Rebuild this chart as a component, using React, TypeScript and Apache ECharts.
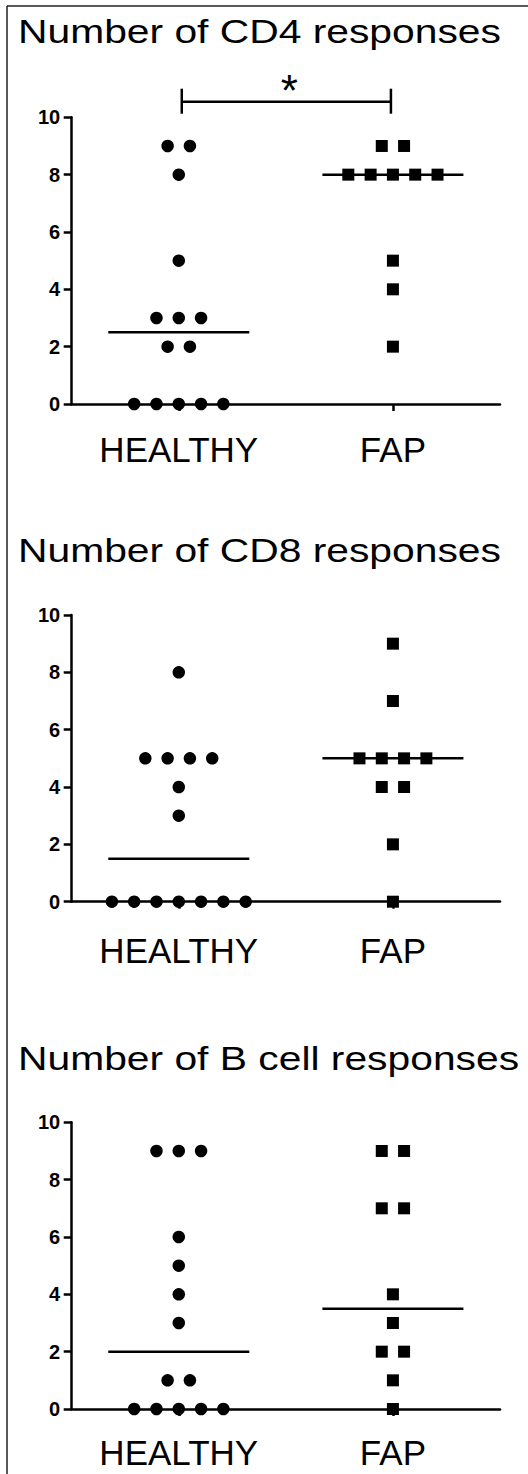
import React, { useEffect, useRef } from "react";
import * as echarts from "echarts";

// ---- data ----
const categories = ["HEALTHY", "FAP"];
const titles = ["Number of CD4 responses", "Number of CD8 responses", "Number of B cell responses"];

const cd4Healthy = [9, 9, 8, 5, 3, 3, 3, 2, 2, 0, 0, 0, 0, 0];
const cd4Fap = [9, 9, 8, 8, 8, 8, 8, 5, 4, 2];
const cd8Healthy = [8, 5, 5, 5, 5, 4, 3, 0, 0, 0, 0, 0, 0, 0];
const cd8Fap = [9, 7, 5, 5, 5, 5, 4, 4, 2, 0];
const bHealthy = [9, 9, 9, 6, 5, 4, 3, 1, 1, 0, 0, 0, 0, 0];
const bFap = [9, 9, 7, 7, 4, 3, 2, 2, 1, 0];

const cd4Medians = [2.5, 8];
const cd8Medians = [1.5, 5];
const bMedians = [2, 3.5];

const yMin = 0;
const yMax = 10;
const yInterval = 2;

// significance annotation (panel 1): between HEALTHY and FAP
const sigLabel = "*";

// ---- layout ----
const FONT = '"Liberation Sans", Arial, Helvetica, sans-serif';
const W = 528;
const H = 1474;
const GRID_LEFT = 71.7;
const GRID_WIDTH = 428.3;
const GRID_HEIGHT = 286.7;
const gridTops = [117.3, 615, 1122.3];
const titleBaselines = [43.5, 562, 1070];
const xLabelMargins = [28, 31, 25.5];
const DOT_SPACING = 22.3;
const MEDIAN_HALF = 70.5;
const LW = 2.5;

const panels = [
  { title: titles[0], groups: [cd4Healthy, cd4Fap], medians: cd4Medians, sig: true },
  { title: titles[1], groups: [cd8Healthy, cd8Fap], medians: cd8Medians, sig: false },
  { title: titles[2], groups: [bHealthy, bFap], medians: bMedians, sig: false },
];

function jitter(values: number[], cat: number) {
  const counts: Record<number, number> = {};
  values.forEach((v) => (counts[v] = (counts[v] || 0) + 1));
  const seen: Record<number, number> = {};
  return values.map((v) => {
    const i = seen[v] || 0;
    seen[v] = i + 1;
    const n = counts[v];
    return { value: [cat, v], symbolOffset: [(i - (n - 1) / 2) * DOT_SPACING, 0] };
  });
}

export default function App() {
  const ref = useRef<HTMLDivElement>(null);
  useEffect(() => {
    if (!ref.current) return;
    const chart = echarts.init(ref.current, undefined, { renderer: "svg" });

    const grid: any[] = [];
    const xAxis: any[] = [];
    const yAxis: any[] = [];
    const series: any[] = [];
    const graphic: any[] = [];

    // frame lines
    graphic.push({
      type: "line",
      shape: { x1: 7, y1: 6, x2: W, y2: 6 },
      style: { stroke: "#222", lineWidth: 1.5 },
    });
    graphic.push({
      type: "line",
      shape: { x1: 7, y1: 6, x2: 7, y2: H },
      style: { stroke: "#222", lineWidth: 1.5 },
    });

    panels.forEach((p, k) => {
      grid.push({ left: GRID_LEFT, top: gridTops[k], width: GRID_WIDTH, height: GRID_HEIGHT, containLabel: false });
      xAxis.push({
        type: "category",
        gridIndex: k,
        data: categories,
        boundaryGap: true,
        axisLine: { show: true, onZero: false, lineStyle: { color: "#000", width: LW } },
        axisTick: { show: true, alignWithLabel: true, length: 7, lineStyle: { color: "#000", width: LW } },
        axisLabel: { color: "#000", fontSize: 35, fontFamily: FONT, margin: xLabelMargins[k] },
        splitLine: { show: false },
      });
      yAxis.push({
        type: "value",
        gridIndex: k,
        min: yMin,
        max: yMax,
        interval: yInterval,
        axisLine: { show: true, lineStyle: { color: "#000", width: LW } },
        axisTick: { show: true, length: 8, lineStyle: { color: "#000", width: LW } },
        axisLabel: {
          color: "#000",
          fontSize: 20,
          fontWeight: "bold",
          fontFamily: FONT,
          margin: 11.5,
        },
        splitLine: { show: false },
      });

      // scatter points
      p.groups.forEach((vals, cat) => {
        series.push({
          type: "scatter",
          xAxisIndex: k,
          yAxisIndex: k,
          symbol: cat === 0 ? "circle" : "rect",
          symbolSize: cat === 0 ? 12.5 : 12,
          itemStyle: { color: "#000", opacity: 1 },
          data: jitter(vals, cat),
          z: 3,
          silent: true,
        });
      });

      // median lines
      series.push({
        type: "custom",
        xAxisIndex: k,
        yAxisIndex: k,
        data: p.medians.map((m, i) => [i, m]),
        z: 4,
        silent: true,
        renderItem: (_params: any, api: any) => {
          const c = api.coord([api.value(0), api.value(1)]);
          return {
            type: "line",
            shape: { x1: c[0] - MEDIAN_HALF, y1: c[1], x2: c[0] + MEDIAN_HALF, y2: c[1] },
            style: { stroke: "#000", lineWidth: LW },
          };
        },
      });

      // significance bracket
      if (p.sig) {
        series.push({
          type: "custom",
          xAxisIndex: k,
          yAxisIndex: k,
          data: [[0, yMax]],
          clip: false,
          silent: true,
          z: 5,
          renderItem: (_params: any, api: any) => {
            const a = api.coord([0, yMax]);
            const b = api.coord([1, yMax]);
            const y = a[1] - 15.6;
            const x1 = a[0] + 3;
            const x2 = b[0] - 2;
            return {
              type: "group",
              children: [
                { type: "line", shape: { x1, y1: y, x2, y2: y }, style: { stroke: "#000", lineWidth: LW } },
                { type: "line", shape: { x1, y1: y - 13, x2: x1, y2: y + 12 }, style: { stroke: "#000", lineWidth: LW } },
                { type: "line", shape: { x1: x2, y1: y - 13, x2: x2, y2: y + 12 }, style: { stroke: "#000", lineWidth: LW } },
                {
                  type: "text",
                  style: {
                    text: sigLabel,
                    x: (x1 + x2) / 2 + 3,
                    y: y - 11,
                    fill: "#000",
                    font: `44px ${FONT}`,
                    align: "center",
                    textAlign: "center",
                    verticalAlign: "middle",
                    textVerticalAlign: "middle",
                  },
                },
              ],
            };
          },
        });
      }

      // title
      const fs = 34;
      graphic.push({
        type: "text",
        x: 18,
        y: titleBaselines[k] - 0.3465 * fs,
        scaleX: 1.2,
        scaleY: 1,
        style: {
          text: p.title,
          x: 0,
          y: 0,
          fill: "#000",
          font: `${fs}px ${FONT}`,
          textAlign: "left",
          align: "left",
          textVerticalAlign: "middle",
          verticalAlign: "middle",
        },
      });
    });

    chart.setOption({
      animation: false,
      backgroundColor: "#fff",
      grid,
      xAxis,
      yAxis,
      series,
      graphic,
    });
    return () => chart.dispose();
  }, []);

  return (
    <div
      ref={ref}
      style={{ position: "absolute", left: 0, top: 0, width: W, height: H }}
    />
  );
}
